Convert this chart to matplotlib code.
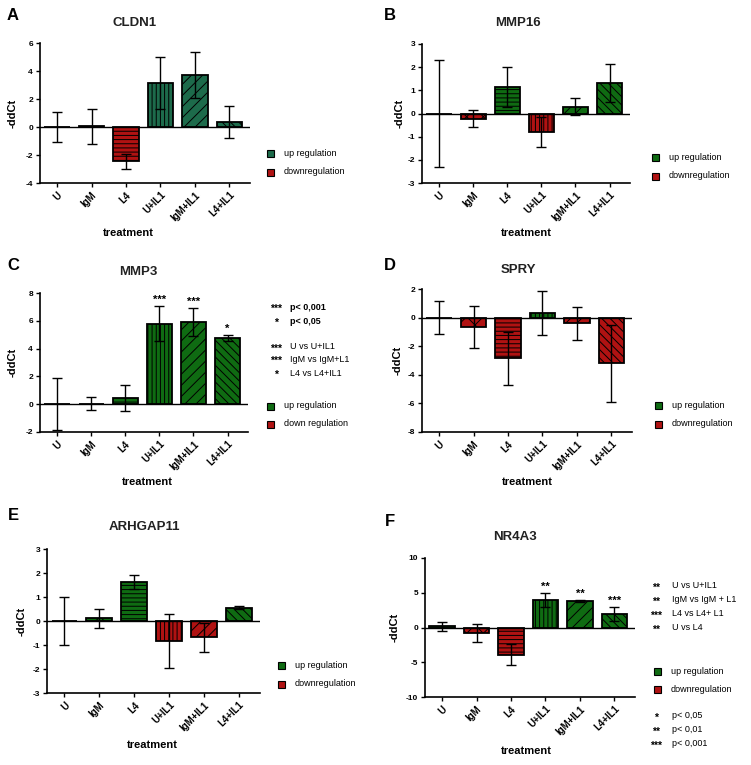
import matplotlib
matplotlib.use("Agg")
import matplotlib.pyplot as plt
from matplotlib.patches import Rectangle

plt.rcParams['font.family'] = ['Liberation Sans', 'DejaVu Sans']
plt.rcParams['hatch.linewidth'] = 0.7

W, H = 751, 765

categories = ['U', 'IgM', 'L4', 'U+IL1', 'IgM+IL1', 'L4+IL1']
hatches = ['', 'xx', '----', '||||', '///', '\\\\\\\\']

# panel A - CLDN1
cldn1_vals = [0.0, 0.05, -2.45, 3.15, 3.7, 0.35]
cldn1_errs = [1.1, 1.25, 0.55, 1.85, 1.65, 1.15]
cldn1_dir = ['up', 'up', 'down', 'up', 'up', 'up']

# panel B - MMP16
mmp16_vals = [0.0, -0.22, 1.15, -0.8, 0.3, 1.33]
mmp16_errs = [2.3, 0.37, 0.85, 0.65, 0.35, 0.82]
mmp16_dir = ['up', 'down', 'up', 'down', 'up', 'up']

# panel C - MMP3
mmp3_vals = [0.0, 0.05, 0.45, 5.8, 5.9, 4.75]
mmp3_errs = [1.85, 0.5, 0.95, 1.25, 1.0, 0.2]
mmp3_dir = ['up', 'up', 'up', 'up', 'up', 'up']
mmp3_stars = ['', '', '', '***', '***', '*']

# panel D - SPRY
spry_vals = [0.0, -0.65, -2.85, 0.3, -0.4, -3.2]
spry_errs = [1.15, 1.45, 1.85, 1.55, 1.17, 2.7]
spry_dir = ['up', 'down', 'down', 'up', 'down', 'down']

# panel E - ARHGAP11
arhgap_vals = [0.0, 0.12, 1.62, -0.83, -0.68, 0.55]
arhgap_errs = [1.0, 0.4, 0.28, 1.13, 0.6, 0.07]
arhgap_dir = ['up', 'up', 'up', 'down', 'down', 'up']

# panel F - NR4A3
nr4a3_vals = [0.15, -0.75, -3.9, 4.0, 3.8, 1.9]
nr4a3_errs = [0.6, 1.3, 1.5, 1.0, 0.1, 1.0]
nr4a3_dir = ['up', 'down', 'down', 'up', 'up', 'up']
nr4a3_stars = ['', '', '', '**', '**', '***']

RED = '#b01212'
GREEN = '#0f6b12'
TEAL = '#1d6b4b'

fig = plt.figure(figsize=(W / 100, H / 100), dpi=100)


def ftext(x, y, s, **kw):
    """text placed in pixel coordinates of the figure"""
    fig.text(x / W, 1 - y / H, s, **kw)


def fbox(x, y, color):
    """small legend square centred at pixel x, y"""
    fig.add_artist(Rectangle(((x - 3.5) / W, 1 - (y + 3.5) / H), 7 / W, 7 / H,
                             transform=fig.transFigure, facecolor=color,
                             edgecolor='black', lw=0.8))


def panel(box, vals, errs, dirs, ylim, step, green, stars=None):
    l, t, r, b = box
    ax = fig.add_axes([l / W, 1 - b / H, (r - l) / W, (b - t) / H])
    x = list(range(len(vals)))
    cols = [green if d == 'up' else RED for d in dirs]
    ax.bar(x, vals, width=0.74, color=cols, edgecolor='black', lw=1.3,
           hatch=hatches, zorder=2)
    ax.errorbar(x, vals, yerr=errs, fmt='none', ecolor='black', elinewidth=1,
                capsize=3.5, capthick=1, zorder=3)
    ax.axhline(0, color='black', lw=1, zorder=4)
    if stars:
        for xi, v, e, s in zip(x, vals, errs, stars):
            if s:
                ax.text(xi, v + e + (ylim[1] - ylim[0]) * 0.01, s, ha='center',
                        va='bottom', fontsize=8, fontweight='bold')
    ax.set_xlim(-0.5, 5.6)
    ax.set_ylim(*ylim)
    ticks = list(range(ylim[0], ylim[1] + 1, step))
    ax.set_yticks(ticks)
    ax.set_yticklabels([str(v) for v in ticks], fontsize=6, fontweight='bold')
    ax.set_xticks(x)
    ax.set_xticklabels(categories, rotation=45, ha='right', rotation_mode='anchor',
                       fontsize=7, fontweight='bold')
    ax.tick_params(axis='both', length=3, width=1, pad=2)
    for s in ['top', 'right']:
        ax.spines[s].set_visible(False)
    ax.spines['left'].set_linewidth(1.2)
    ax.spines['bottom'].set_linewidth(1.2)
    return ax


panel((40, 43, 250, 183), cldn1_vals, cldn1_errs, cldn1_dir, (-4, 6), 2, TEAL)
panel((422, 44, 630, 183), mmp16_vals, mmp16_errs, mmp16_dir, (-3, 3), 1, GREEN)
panel((40, 293, 248, 432), mmp3_vals, mmp3_errs, mmp3_dir, (-2, 8), 2, GREEN, mmp3_stars)
panel((422, 289, 632, 432), spry_vals, spry_errs, spry_dir, (-8, 2), 2, GREEN)
panel((47, 549, 260, 693), arhgap_vals, arhgap_errs, arhgap_dir, (-3, 3), 1, GREEN)
panel((425, 558, 635, 697), nr4a3_vals, nr4a3_errs, nr4a3_dir, (-10, 10), 5, GREEN, nr4a3_stars)

# panel letters, titles, axis labels
letters = [('A', 13, 15), ('B', 390, 15), ('C', 13, 265), ('D', 390, 265), ('E', 13, 515), ('F', 390, 521)]
for s, x, y in letters:
    ftext(x, y, s, fontsize=12, fontweight='bold', ha='center', va='center')

titles = [('CLDN1', 135, 23), ('MMP16', 518, 23), ('MMP3', 138, 272),
          ('SPRY', 518, 270), ('ARHGAP11', 144, 527), ('NR4A3', 515, 537)]
for s, x, y in titles:
    ftext(x, y, s, fontsize=9.5, fontweight='bold', ha='center', va='center', color='#222222')

xlabels = [(128, 233), (526, 233), (147, 482), (527, 482), (152, 745), (526, 751)]
for x, y in xlabels:
    ftext(x, y, 'treatment', fontsize=8, fontweight='bold', ha='center', va='center')

ylabels = [(13, 113), (400, 113), (13, 362), (398, 360), (22, 621), (395, 627)]
for x, y in ylabels:
    ftext(x, y, '-ddCt', fontsize=8, fontweight='bold', ha='center', va='center', rotation=90)

# legends
legends = [(270, 153, 172, TEAL, 'downregulation'), (655, 157, 176, GREEN, 'downregulation'),
           (270, 406, 424, GREEN, 'down regulation'), (658, 405, 424, GREEN, 'downregulation'),
           (281, 665, 684, GREEN, 'downregulation'), (657, 671, 689, GREEN, 'downregulation')]
for x, y1, y2, g, down in legends:
    fbox(x, y1, g)
    fbox(x, y2, RED)
    ftext(x + 14, y1, 'up regulation', fontsize=6.5, va='center')
    ftext(x + 14, y2, down, fontsize=6.5, va='center')

# significance notes, panel C
c_notes = [('***', 'p< 0,001', 307, True), ('*', 'p< 0,05', 321, True),
           ('***', 'U vs U+IL1', 347, False), ('***', 'IgM vs IgM+L1', 359, False),
           ('*', 'L4 vs L4+IL1', 373, False)]
for st, s, y, bold in c_notes:
    ftext(276, y + 2, st, fontsize=7.5, fontweight='bold', ha='center', va='center')
    ftext(290, y, s, fontsize=6.5, va='center', fontweight='bold' if bold else 'normal')

# significance notes, panel F
f_notes = [('**', 'U vs U+IL1', 586), ('**', 'IgM vs IgM + L1', 600),
           ('***', 'L4 vs L4+ L1', 614), ('**', 'U vs L4', 628),
           ('*', 'p< 0,05', 716), ('**', 'p< 0,01', 730), ('***', 'p< 0,001', 744)]
for st, s, y in f_notes:
    ftext(656, y + 2, st, fontsize=7.5, fontweight='bold', ha='center', va='center')
    ftext(672, y, s, fontsize=6.5, va='center')

fig.savefig('out.png', dpi=100)
